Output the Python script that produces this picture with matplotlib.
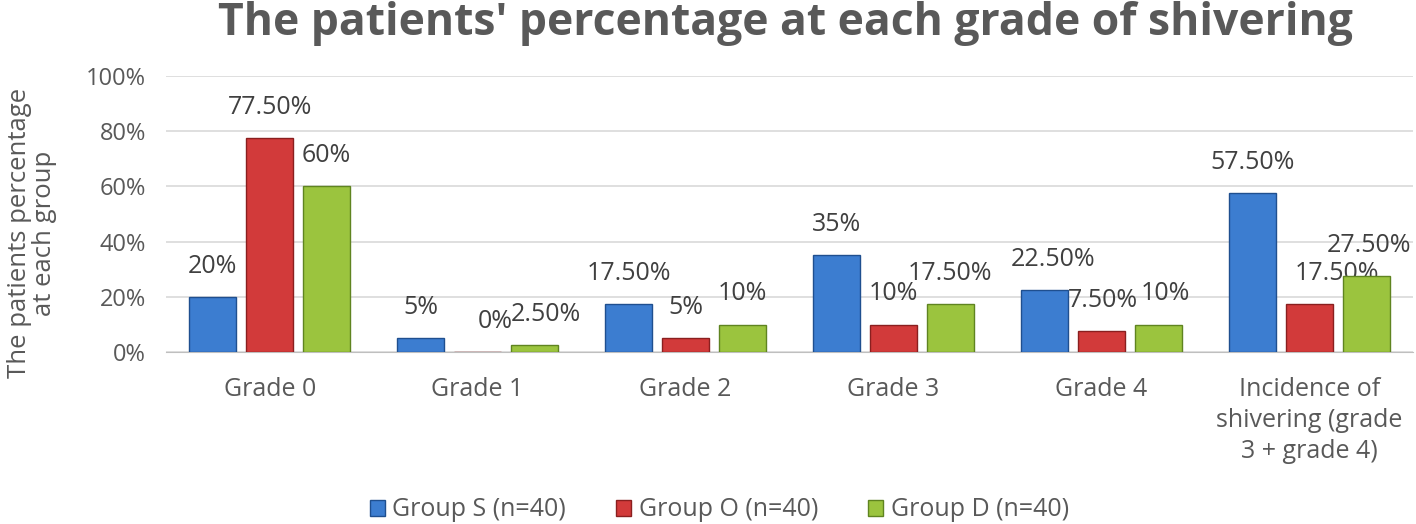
import numpy as np
import matplotlib.pyplot as plt
from matplotlib.ticker import PercentFormatter

plt.rcParams['font.family'] = ['Open Sans', 'DejaVu Sans']

categories = ['Grade 0', 'Grade 1', 'Grade 2', 'Grade 3', 'Grade 4',
              'Incidence of\nshivering (grade\n3 + grade 4)']
group_s = [20, 5, 17.5, 35, 22.5, 57.5]
group_o = [77.5, 0, 5, 10, 7.5, 17.5]
group_d = [60, 2.5, 10, 17.5, 10, 27.5]
series_names = ['Group S (n=40)', 'Group O (n=40)', 'Group D (n=40)']

colors = ['#3c7dd0', '#d23a3a', '#9bc43e']
edges = ['#1f4f8f', '#8a1f1f', '#5f8420']

# small horizontal nudges (points) for crowded data labels, like Excel did
nudge = {(1, 1): 13, (2, 1): 8, (0, 4): 6, (1, 4): 1, (2, 4): 5,
         (1, 5): 20, (2, 5): 2}

def fmt(v):
    if v == int(v):
        return '%d%%' % v
    return '%.2f%%' % v

fig = plt.figure(figsize=(14.16, 5.24), dpi=100)
ax = fig.add_axes([0.117, 0.328, 0.881, 0.527])

x = np.arange(len(categories))
w = 0.226
step = 0.274
for i, (vals, name) in enumerate(zip([group_s, group_o, group_d], series_names)):
    pos = x + (i - 1) * step
    ax.bar(pos, vals, width=w, color=colors[i], edgecolor=edges[i],
           linewidth=1.0, label=name, zorder=3)
    for j, (p, v) in enumerate(zip(pos, vals)):
        ax.annotate(fmt(v), (p, v), xytext=(nudge.get((i, j), 0), 13),
                    textcoords='offset points', ha='center', va='bottom',
                    fontsize=18, color='#404040')

ax.set_xlim(-0.5, len(categories) - 0.5)
ax.set_ylim(0, 100)
ax.set_yticks(range(0, 101, 20))
ax.yaxis.set_major_formatter(PercentFormatter(decimals=0))
ax.grid(axis='y', color='#d9d9d9', linewidth=1.2, zorder=0)
ax.set_xticks(x)
ax.set_xticklabels(categories, fontsize=18, color='#595959', linespacing=1.3)
ax.tick_params(axis='y', labelsize=17, labelcolor='#595959', length=0, pad=14)
ax.tick_params(axis='x', length=0, pad=18)
for s in ['top', 'right', 'left']:
    ax.spines[s].set_visible(False)
ax.spines['bottom'].set_color('#bfbfbf')

fig.text(32 / 1416, 1 - 233 / 524, 'The patients percentage\nat each group',
         rotation=90, ha='center', va='center', fontsize=18.5,
         color='#595959', linespacing=1.0)

fig.suptitle("The patients' percentage at each grade of shivering",
             fontsize=32, fontweight='bold', color='#595959',
             x=0.555, y=0.998, va='top')

fig.legend(loc='lower center', ncol=3, frameon=False, fontsize=18,
           bbox_to_anchor=(0.508, -0.04), handlelength=0.6, handleheight=0.6,
           handletextpad=0.3, columnspacing=2.0, labelcolor='#595959')

fig.savefig('out.png', dpi=100)
